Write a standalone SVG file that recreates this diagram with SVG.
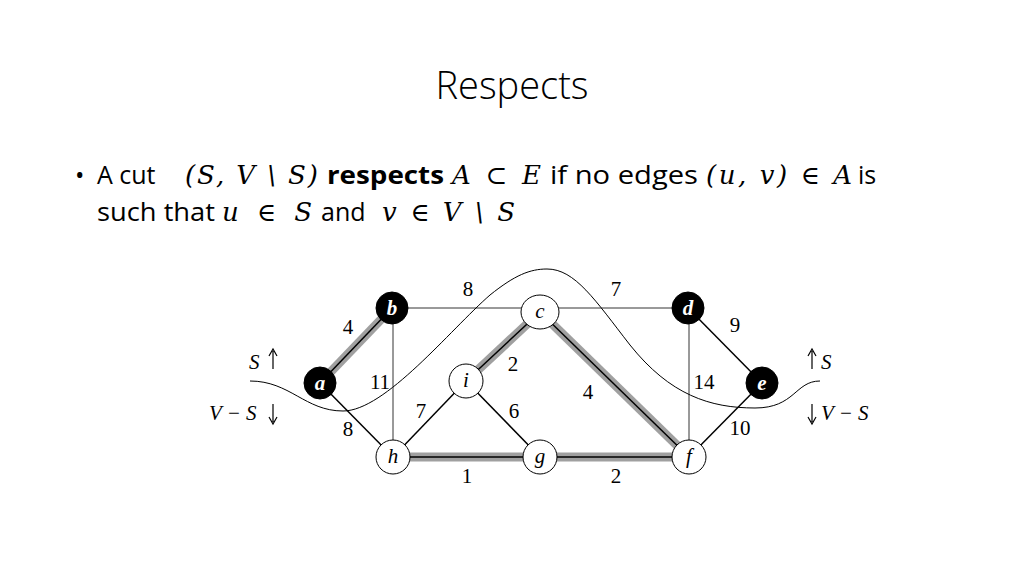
<svg xmlns="http://www.w3.org/2000/svg" width="1024" height="576" viewBox="0 0 1024 576">
<style>
.t{font-family:"Open Sans","Liberation Sans",sans-serif;fill:#000;font-size:25px}
.m{font-family:"DejaVu Serif",serif;font-style:italic;font-size:26px}
.e{stroke:#000;stroke-width:1.5}
.th{stroke:#000;stroke-width:0.8}
.hl{stroke:#a0a0a0;stroke-width:9}
.w{fill:#fff;stroke:#000;stroke-width:1}
.k{fill:#000;stroke:#000}
.lb{font-family:"Liberation Serif",serif;font-size:21px}
.nl{font-family:"Liberation Serif",serif;font-style:italic;font-weight:bold;font-size:21px;text-anchor:middle}
.nw{font-family:"Liberation Serif",serif;font-style:italic;font-size:21px;text-anchor:middle}
</style>
<rect width="1024" height="576" fill="#fff"/>
<text class="t" x="512" y="99" font-size="38" text-anchor="middle" font-weight="300" style="font-size:38px">Respects</text>
<g id="text">
<text class="t" x="75" y="184">•</text>
<text class="t" x="97" y="184">A cut</text>
<text class="m" x="185" y="184" textLength="133" lengthAdjust="spacing">(S, V \ S)</text>
<text class="t" x="327" y="184" fill="#e81c1c" font-weight="bold" textLength="117" lengthAdjust="spacingAndGlyphs">respects</text>
<text class="m" x="452" y="184" textLength="89" lengthAdjust="spacing">A ⊂ E</text>
<text class="t" x="550" y="184" textLength="148" lengthAdjust="spacingAndGlyphs">if no edges</text>
<text class="m" x="706" y="184" textLength="146" lengthAdjust="spacing">(u, v) ∈ A</text>
<text class="t" x="858" y="184">is</text>
<text class="t" x="97" y="221" textLength="118" lengthAdjust="spacingAndGlyphs">such that</text>
<text class="m" x="222" y="221" textLength="90" lengthAdjust="spacing">u ∈ S</text>
<text class="t" x="321" y="221">and</text>
<text class="m" x="382" y="221" textLength="133" lengthAdjust="spacing">v ∈ V \ S</text>
</g>
<g id="connectors">
<line class="hl" x1="320" y1="383" x2="392" y2="308"/>
<line class="hl" x1="466" y1="381" x2="540" y2="312"/>
<line class="hl" x1="540" y1="312" x2="689" y2="457"/>
<line class="hl" x1="393" y1="457" x2="689" y2="457"/>
<line class="e" x1="320" y1="383" x2="392" y2="308"/>
<line class="e" x1="466" y1="381" x2="540" y2="312"/>
<line class="e" x1="540" y1="312" x2="689" y2="457"/>
<line class="e" x1="393" y1="457" x2="689" y2="457"/>
<line class="th" x1="392" y1="308" x2="540" y2="308"/>
<line class="th" x1="540" y1="308" x2="688" y2="308"/>
<line class="th" x1="393" y1="308" x2="393" y2="457"/>
<line class="th" x1="689" y1="308" x2="689" y2="457"/>
<line class="e" x1="320" y1="383" x2="393" y2="457"/>
<line class="e" x1="466" y1="381" x2="393" y2="457"/>
<line class="e" x1="466" y1="381" x2="540" y2="457"/>
<line class="e" x1="688" y1="308" x2="762" y2="383"/>
<line class="e" x1="762" y1="383" x2="689" y2="457"/>
<path d="M250 381 C290 381 305 411 343 411 C385 411 450 330 490 295 C515 275 530 269 547 269 C575 269 595 300 630 345 C670 395 710 408 755 408 C795 408 795 381 820 381" fill="none" stroke="#000" stroke-width="1"/>
</g>
<g id="labels" class="lb">
<text x="468" y="296" text-anchor="middle">8</text>
<text x="616" y="296" text-anchor="middle">7</text>
<text x="348" y="334" text-anchor="middle">4</text>
<text x="735" y="332" text-anchor="middle">9</text>
<text x="380" y="389" text-anchor="middle">11</text>
<text x="513" y="371" text-anchor="middle">2</text>
<text x="588" y="399" text-anchor="middle">4</text>
<text x="704" y="389" text-anchor="middle">14</text>
<text x="421" y="418" text-anchor="middle">7</text>
<text x="514" y="418" text-anchor="middle">6</text>
<text x="348" y="436" text-anchor="middle">8</text>
<text x="740" y="435" text-anchor="middle">10</text>
<text x="467" y="483" text-anchor="middle">1</text>
<text x="616" y="483" text-anchor="middle">2</text>
<text x="249" y="369" font-style="italic">S</text>
<text x="209" y="420" font-style="italic">V − S</text>
<text x="821" y="369" font-style="italic">S</text>
<text x="821" y="420" font-style="italic">V − S</text>
<g stroke="#000" stroke-width="1.2" fill="none">
<path d="M273 369 V351 M269 356 L273 349 L277 356"/>
<path d="M273 404 V422 M269 417 L273 424 L277 417"/>
<path d="M812 369 V351 M808 356 L812 349 L816 356"/>
<path d="M812 404 V422 M808 417 L812 424 L816 417"/>
</g>
</g>
<g id="a"><circle class="k" cx="320" cy="383" r="16"/><text class="nl" x="320" y="390" fill="#fff">a</text></g>
<g id="b"><circle class="k" cx="392" cy="308" r="16"/><text class="nl" x="392" y="315" fill="#fff">b</text></g>
<g id="d"><circle class="k" cx="688" cy="308" r="16"/><text class="nl" x="688" y="315" fill="#fff">d</text></g>
<g id="e"><circle class="k" cx="762" cy="383" r="16"/><text class="nl" x="762" y="390" fill="#fff">e</text></g>
<g id="c"><ellipse class="w" cx="540" cy="312" rx="19" ry="17"/><text class="nw" x="540" y="318">c</text></g>
<g id="i"><ellipse class="w" cx="466" cy="381" rx="17" ry="17"/><text class="nw" x="466" y="387">i</text></g>
<g id="h"><ellipse class="w" cx="393" cy="457" rx="17" ry="17"/><text class="nw" x="393" y="463">h</text></g>
<g id="g"><ellipse class="w" cx="540" cy="457" rx="17" ry="17"/><text class="nw" x="540" y="463">g</text></g>
<g id="f"><ellipse class="w" cx="689" cy="457" rx="17" ry="17"/><text class="nw" x="689" y="463">f</text></g>
</svg>
